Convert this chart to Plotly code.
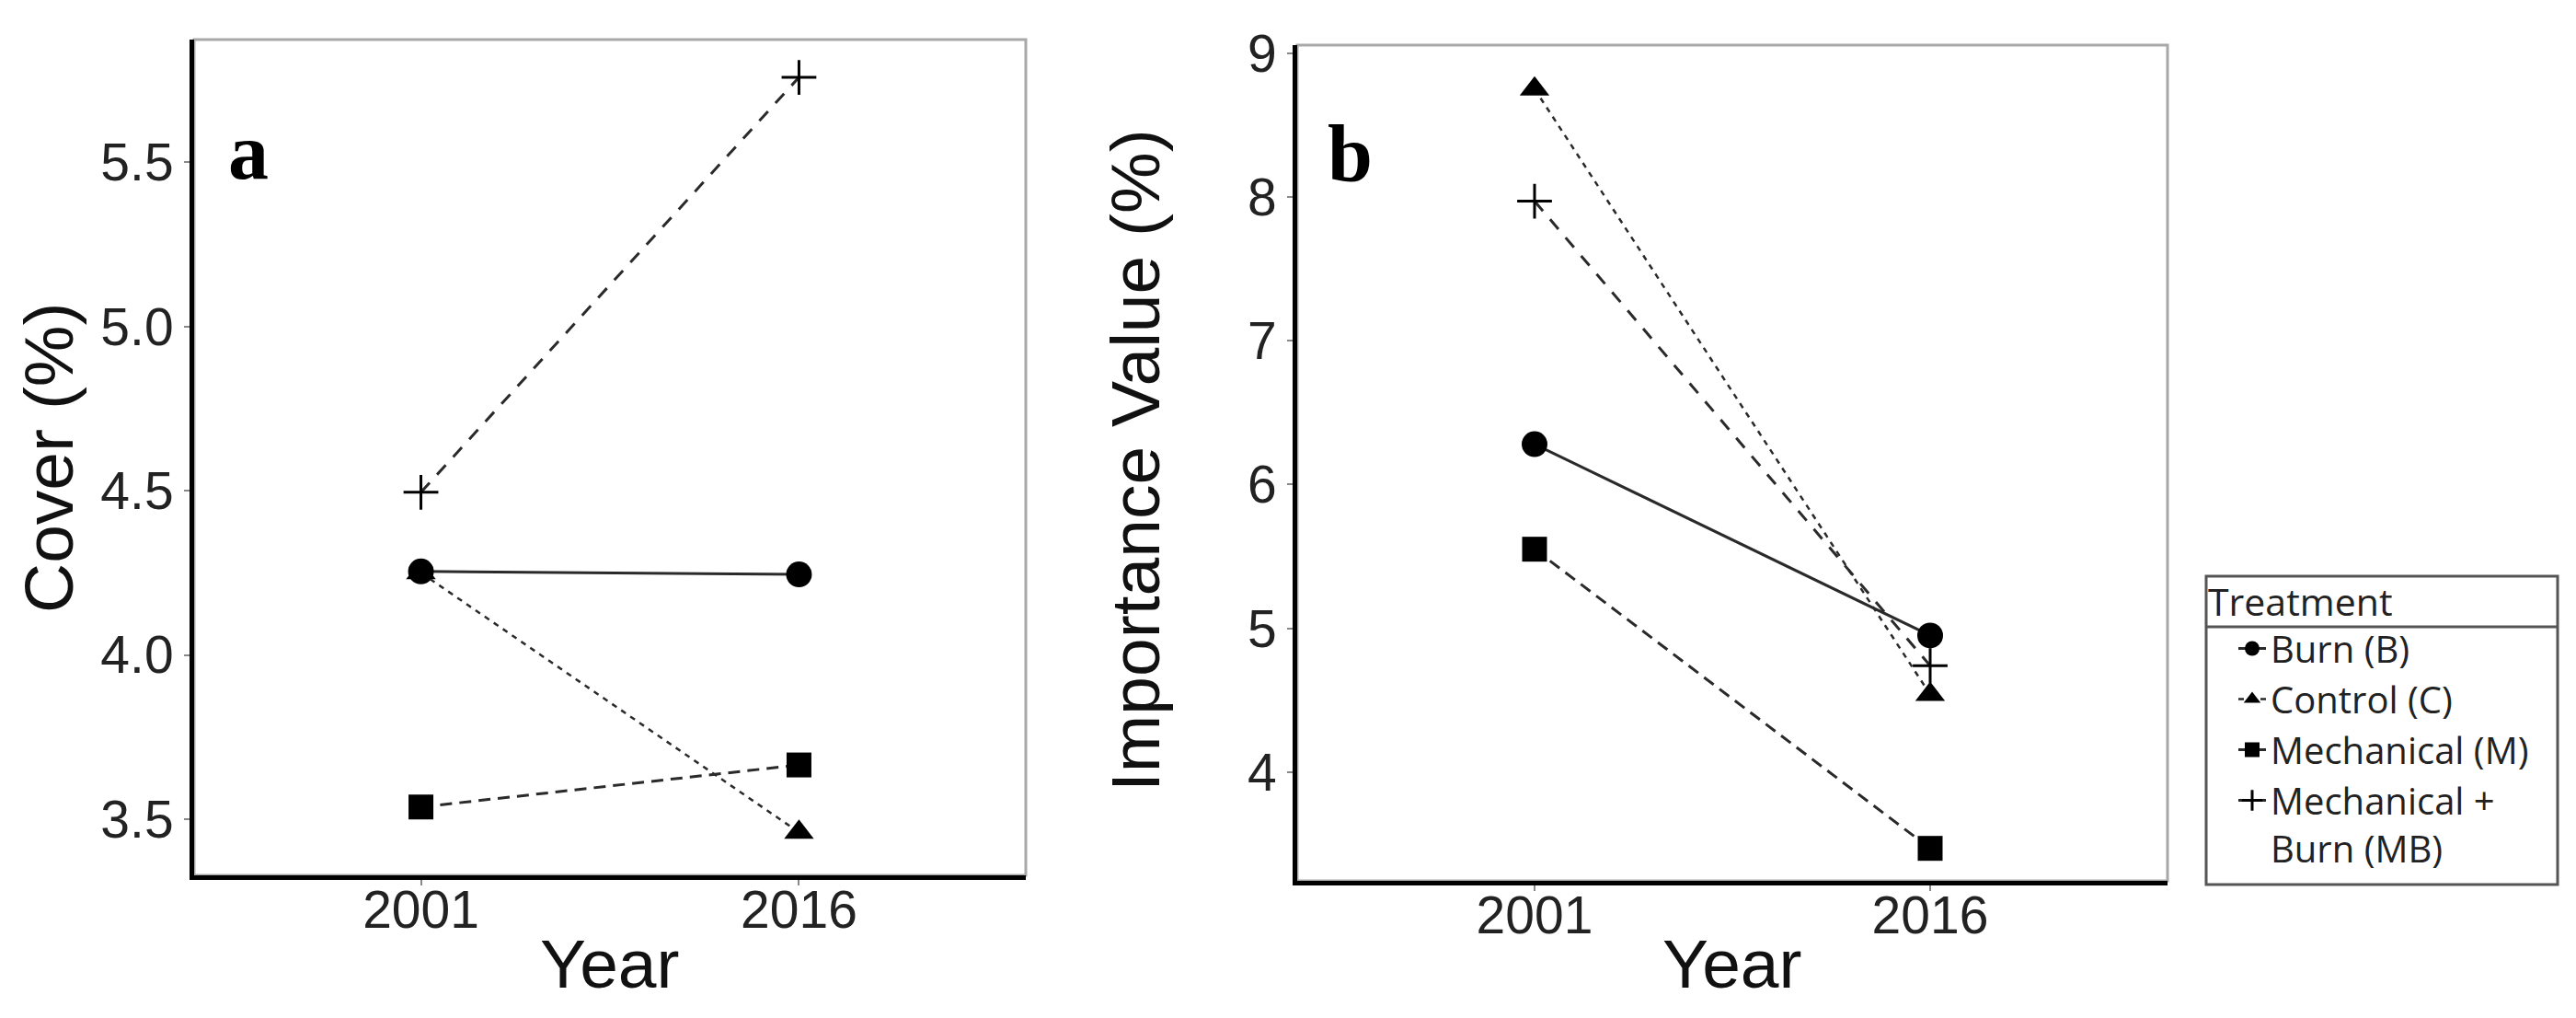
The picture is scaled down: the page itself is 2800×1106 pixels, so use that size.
import plotly.graph_objects as go
from plotly.subplots import make_subplots

# values
years = ["2001", "2016"]
treatments = ["Burn (B)", "Control (C)", "Mechanical (M)", "Mechanical +<br>Burn (MB)"]

cover_burn = [4.254, 4.245]
cover_control = [4.25, 3.46]
cover_mech = [3.537, 3.665]
cover_mb = [4.495, 5.758]

iv_burn = [6.28, 4.95]
iv_control = [8.75, 4.54]
iv_mech = [5.55, 3.47]
iv_mb = [7.97, 4.74]

cover_ticks = [3.5, 4.0, 4.5, 5.0, 5.5]
iv_ticks = [4, 5, 6, 7, 8, 9]

symbols = ["circle", "triangle-up", "square", "cross-thin"]
sizes = [28, 28, 27, 27]
dashes = ["solid", "6px,6px", "13px,8px", "14px,12px"]
widths = [3, 2.5, 3, 3]

W, H = 2800, 1106
TICK_FONT = dict(family="Liberation Sans Narrow, Arial Narrow, Liberation Sans, sans-serif", size=57, color="#222")
TITLE_FONT = dict(family="Liberation Sans, Arial, sans-serif", size=75, color="#111")


def add_series(fig, values, col, show):
    for i, ys in enumerate(values):
        fig.add_trace(
            go.Scatter(
                x=years,
                y=ys,
                mode="lines+markers",
                name=treatments[i],
                legendgroup=treatments[i],
                showlegend=show,
                line=dict(color="#2a2a2a", width=widths[i], dash=dashes[i]),
                marker=dict(symbol=symbols[i], size=sizes[i], color="black",
                            line=dict(color="black", width=3 if symbols[i] == "cross-thin" else 0)),
            ),
            row=1, col=col
        )
    return fig


def main():
    fig = make_subplots(rows=1, cols=2)
    add_series(fig, [cover_burn, cover_control, cover_mech, cover_mb], 1, False)
    add_series(fig, [iv_burn, iv_control, iv_mech, iv_mb], 2, True)

    xcommon = dict(type="category", categoryorder="array", categoryarray=years, range=[-0.6, 1.6],
                   showline=True, linecolor="black", linewidth=5, showgrid=False, zeroline=False,
                   ticks="outside", ticklen=6, tickwidth=2, tickcolor="#888", tickfont=TICK_FONT,
                   ticklabelstandoff=-22, automargin=False)
    ycommon = dict(showline=True, linecolor="black", linewidth=5, showgrid=False, zeroline=False,
                   ticks="outside", ticklen=6, tickwidth=2, tickcolor="#888", tickfont=TICK_FONT,
                   automargin=False)

    fig.update_layout(
        xaxis=dict(domain=[203 / W, 1107 / W], **xcommon),
        xaxis2=dict(domain=[1402 / W, 2348 / W], **xcommon),
        yaxis=dict(domain=[1 - 943 / H, 1 - 35 / H], range=[3.329, 5.873],
                   tickvals=cover_ticks, tickformat=".1f", **ycommon),
        yaxis2=dict(domain=[1 - 949 / H, 1 - 41 / H], range=[3.244, 9.055],
                    tickvals=iv_ticks, **ycommon),
    )

    # grey panel border (top/right), black axis lines drawn over the left/bottom
    shapes = []
    for xr, yr in [("x domain", "y domain"), ("x2 domain", "y2 domain")]:
        shapes.append(dict(type="rect", xref=xr, yref=yr, x0=0, x1=1, y0=0, y1=1,
                           line=dict(color="#a8a8a8", width=3), layer="below"))
    # legend frame and title separator
    shapes.append(dict(type="rect", xref="paper", yref="paper", x0=2390 / W, x1=2772 / W,
                       y0=1 - 953 / H, y1=1 - 618 / H, line=dict(color="#555", width=3)))
    shapes.append(dict(type="line", xref="paper", yref="paper", x0=2390 / W, x1=2772 / W,
                       y0=1 - 673 / H, y1=1 - 673 / H, line=dict(color="#555", width=3)))

    annotations = [
        dict(text="Cover (%)", x=45 / W, y=1 - 489 / H, textangle=-90, font=TITLE_FONT),
        dict(text="Importance Value (%)", x=1226 / W, y=1 - 492 / H, textangle=-90, font=TITLE_FONT),
        dict(text="Year", x=655 / W, y=1 - 1039 / H, font=TITLE_FONT),
        dict(text="Year", x=1875 / W, y=1 - 1039 / H, font=TITLE_FONT),
        dict(text="<b>a</b>", x=238 / W, y=1 - 156 / H, xanchor="left",
             font=dict(family="Liberation Serif, Times New Roman, serif", size=88, color="black")),
        dict(text="<b>b</b>", x=1433 / W, y=1 - 160 / H, xanchor="left",
             font=dict(family="Liberation Serif, Times New Roman, serif", size=88, color="black")),
        dict(text="Treatment", x=2390 / W, y=1 - 645 / H, xanchor="left",
             font=dict(family="Open Sans, sans-serif", size=41, color="#222")),
    ]
    for a in annotations:
        a.setdefault("xref", "paper")
        a.setdefault("yref", "paper")
        a.setdefault("showarrow", False)
        a.setdefault("xanchor", "center")
        a.setdefault("yanchor", "middle")

    fig.update_layout(
        width=W, height=H, autosize=False,
        margin=dict(l=0, r=0, t=0, b=0),
        paper_bgcolor="white", plot_bgcolor="white",
        shapes=shapes, annotations=annotations,
        legend=dict(x=2420 / W, y=1 - 664 / H, xanchor="left", yanchor="top", valign="top",
                    font=dict(family="Open Sans, sans-serif", size=40, color="#222"),
                    bgcolor="rgba(0,0,0,0)", borderwidth=0, tracegroupgap=0, itemwidth=30),
    )
    fig.write_html("out.html")


if __name__ == '__main__':
    main()
